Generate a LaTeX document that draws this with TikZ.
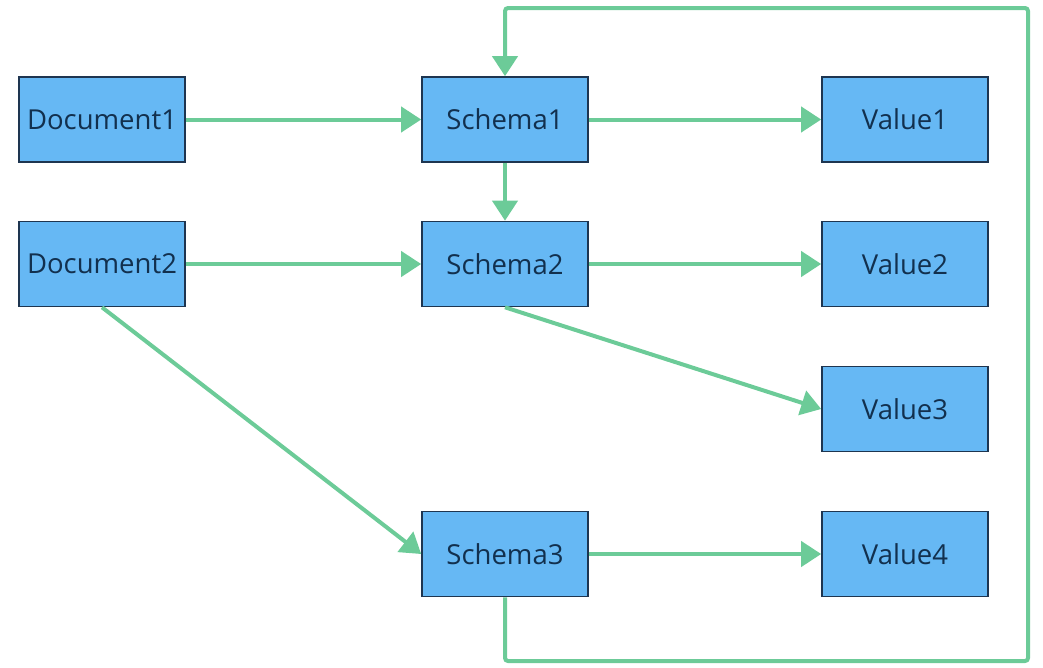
\documentclass[tikz,border=0pt]{standalone}
\usepackage{fontspec}
\setmainfont{Open Sans}
\usetikzlibrary{arrows.meta}
\definecolor{boxfill}{HTML}{66B8F4}
\definecolor{boxline}{HTML}{1E3550}
\definecolor{boxtext}{HTML}{12304E}
\definecolor{flow}{HTML}{6CCB98}
\tikzset{
  block/.style={draw=boxline, line width=1.6pt, fill=boxfill, text=boxtext,
    minimum width=166pt, minimum height=85pt, inner sep=0pt,
    font=\fontsize{27.5}{32}\selectfont},
  link/.style={draw=flow, line width=4pt,
    -{Triangle[length=20pt,width=25pt]}},
}
\begin{document}
\begin{tikzpicture}[x=1pt,y=-1pt]
\useasboundingbox (0,0) rectangle (1043,667);
\node[block] (d1) at (102,119.5) {Document1};
\node[block] (d2) at (102,264) {Document2};
\node[block] (s1) at (505,119.5) {Schema1};
\node[block] (s2) at (505,264) {Schema2};
\node[block] (s3) at (505,554) {Schema3};
\node[block] (v1) at (905,119.5) {Value1};
\node[block] (v2) at (905,264) {Value2};
\node[block] (v3) at (905,409) {Value3};
\node[block] (v4) at (905,554) {Value4};
\coordinate (c1) at (505,661);
\coordinate (c2) at (1028,661);
\coordinate (c3) at (1028,8);
\coordinate (c4) at (505,8);

\draw[link] (d1) -- (s1);
\draw[link] (d2) -- (s2);
\draw[link] (s1) -- (v1);
\draw[link] (s2) -- (v2);
\draw[link] (s3) -- (v4);
\draw[link] (s1) -- (s2);
\draw[link] (s2.south) -- (v3.west);
\draw[link] (d2.south) -- (s3.west);
\draw[link, rounded corners=3pt] (s3.south) -- (c1) -- (c2) -- (c3) -- (c4) -- (s1.north);
\end{tikzpicture}
\end{document}
